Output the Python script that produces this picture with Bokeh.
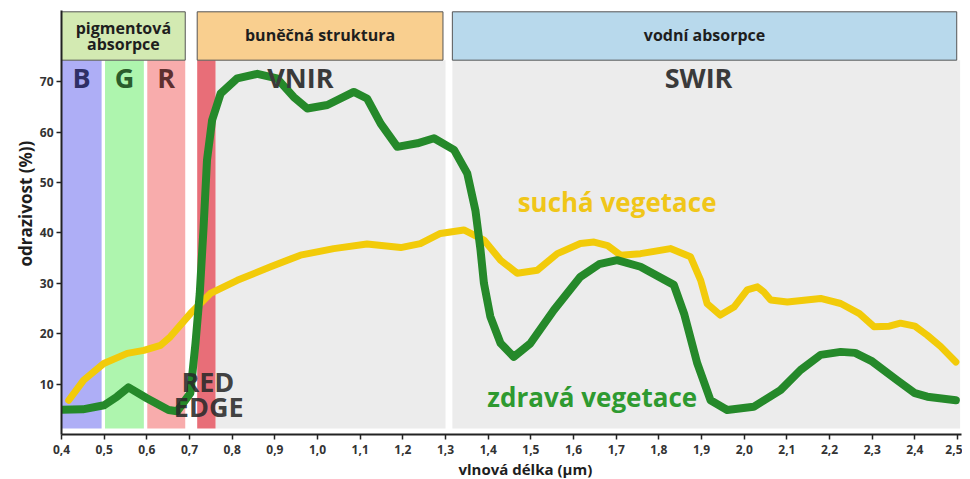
from bokeh.plotting import figure
from bokeh.models import CustomJSTickFormatter, FixedTicker, Title
from bokeh.core.properties import value
from bokeh.embed import file_html
from bokeh.resources import INLINE

# ---- data ----
healthy_x = [0.40, 0.45, 0.50, 0.53, 0.557, 0.60, 0.651, 0.671, 0.702, 0.714, 0.724, 0.733, 0.741,
             0.753, 0.773, 0.812, 0.859, 0.905, 0.944, 0.976, 1.023, 1.085, 1.116, 1.148, 1.187,
             1.234, 1.273, 1.32, 1.351, 1.37, 1.382, 1.39, 1.405, 1.429, 1.46, 1.499, 1.554,
             1.616, 1.66, 1.702, 1.757, 1.835, 1.859, 1.89, 1.921, 1.96, 2.022, 2.085, 2.132,
             2.179, 2.226, 2.26, 2.30, 2.358, 2.40, 2.429, 2.496]
healthy_y = [4.9, 5.0, 5.8, 7.5, 9.35, 7.2, 4.85, 4.6, 8.2, 18.1, 28.0, 41.2, 54.5,
             62.4, 67.7, 70.7, 71.6, 70.7, 67.0, 64.7, 65.4, 68.0, 66.7, 61.7, 57.1,
             57.8, 58.8, 56.5, 51.8, 44.5, 36.6, 30.0, 23.4, 18.1, 15.4, 18.1, 24.7,
             31.3, 33.8, 34.6, 33.3, 29.7, 24.0, 14.1, 6.8, 4.85, 5.5, 8.8, 12.8,
             15.8, 16.4, 16.2, 14.5, 10.8, 8.2, 7.5, 6.8]

dry_x = [0.417, 0.452, 0.499, 0.554, 0.593, 0.632, 0.655, 0.702, 0.749, 0.812, 0.89, 0.96,
         1.038, 1.116, 1.195, 1.241, 1.288, 1.343, 1.39, 1.429, 1.468, 1.515, 1.562, 1.616,
         1.648, 1.68, 1.71, 1.757, 1.827, 1.874, 1.898, 1.913, 1.944, 1.976, 2.007, 2.031,
         2.046, 2.062, 2.101, 2.179, 2.226, 2.27, 2.304, 2.34, 2.366, 2.40, 2.429, 2.46, 2.496]
dry_y = [6.8, 10.8, 14.1, 16.1, 16.7, 17.7, 19.4, 24.0, 28.0, 30.6, 33.3, 35.6,
         36.9, 37.8, 37.1, 37.9, 39.9, 40.6, 38.6, 34.6, 32.0, 32.6, 35.9, 37.9,
         38.2, 37.5, 35.6, 35.9, 36.9, 35.3, 30.6, 26.0, 23.7, 25.3, 28.7, 29.3,
         28.3, 26.7, 26.3, 27.0, 26.0, 24.0, 21.4, 21.5, 22.1, 21.5, 19.7, 17.5, 14.4]

band_left = [0.400, 0.502, 0.601, 0.718]
band_right = [0.494, 0.593, 0.690, 0.761]
band_names = ["B", "G", "R"]

gray_left = [0.761, 1.316]
gray_right = [1.300, 2.506]

header_left = [0.400, 0.718, 1.316]
header_right = [0.690, 1.294, 2.498]
header_labels = [["pigmentová", "absorpce"], ["buněčná struktura"], ["vodní absorpce"]]

x_ticks = [0.4, 0.5, 0.6, 0.7, 0.8, 0.9, 1.0, 1.1, 1.2, 1.3, 1.4, 1.5, 1.6, 1.7, 1.8, 1.9,
           2.0, 2.1, 2.2, 2.3, 2.4, 2.5]
y_ticks = [10, 20, 30, 40, 50, 60, 70]

# ---- styles ----
FONT = "Open Sans"
band_colors = ["#aeaef6", "#aef5ae", "#f8acac", "#e86e78"]
letter_colors = ["#2f2f66", "#2b5c2b", "#5e2f2f"]
header_colors = ["#d3eab2", "#f9cf8f", "#b8d9ec"]
GREEN = "#25892a"
YELLOW = "#f2cb0a"

p = figure(frame_width=900, frame_height=424, x_range=(0.4, 2.5092), y_range=(0, 84.16),
           output_backend="svg", toolbar_location=None,
           min_border_left=61, min_border_right=1, min_border_top=10, min_border_bottom=40)
p.outline_line_color = None
p.grid.visible = False
p.background_fill_color = "white"

band_bottom = 1.2
band_top = 74.3
p.quad(left=gray_left, right=gray_right, bottom=band_bottom, top=band_top,
       fill_color="#ececec", line_color=None)
p.quad(left=band_left, right=band_right, bottom=band_bottom, top=band_top,
       fill_color=band_colors, line_color=None)

p.quad(left=header_left, right=header_right, bottom=band_top, top=83.9,
       fill_color=header_colors, line_color="#555555", line_width=1)

for i, lines in enumerate(header_labels):
    cx = (header_left[i] + header_right[i]) / 2
    ys = [80.7, 77.5] if len(lines) == 2 else [79.2]
    p.text(x=[cx] * len(lines), y=ys, text=lines, text_font=value(FONT), text_font_style="bold",
           text_font_size="16px", text_align="center", text_baseline="middle", text_color="#1e1e1e")

# curves
p.line(dry_x, dry_y, line_color=YELLOW, line_width=7, line_join="round", line_cap="round")
p.line(healthy_x, healthy_y, line_color=GREEN, line_width=8, line_join="round", line_cap="round")

letter_x = [(band_left[i] + band_right[i]) / 2 for i in range(3)]
p.text(x=letter_x, y=[70.9] * 3, text=band_names, text_font=value(FONT), text_font_style="bold",
       text_font_size="27px", text_align="center", text_baseline="middle", text_color=letter_colors)

p.text(x=[0.96, 1.893], y=[70.9, 70.9], text=["VNIR", "SWIR"], text_font=value(FONT),
       text_font_style="bold", text_font_size="27px", text_align="center", text_baseline="middle",
       text_color="#3a3a3a")

p.text(x=[0.743, 0.745], y=[10.5, 5.5], text=["RED", "EDGE"], text_font=value(FONT),
       text_font_style="bold", text_font_size="27px", text_align="center", text_baseline="middle",
       text_color="#2a2a2a", text_alpha=0.9)

p.text(x=[1.469], y=[46.2], text=["suchá vegetace"], text_font=value(FONT), text_font_style="bold",
       text_font_size="26px", text_align="left", text_baseline="middle", text_color="#f0c619")
p.text(x=[1.398], y=[7.5], text=["zdravá vegetace"], text_font=value(FONT), text_font_style="bold",
       text_font_size="26px", text_align="left", text_baseline="middle", text_color="#2e9a30")

for ax in (p.xaxis[0], p.yaxis[0]):
    ax.axis_line_color = "#222222"
    ax.axis_line_width = 2
    ax.major_tick_line_color = "#222222"
    ax.major_tick_line_width = 1.5
    ax.major_tick_in = 0
    ax.major_tick_out = 5
    ax.minor_tick_line_color = None
    ax.major_label_text_font = FONT
    ax.major_label_text_font_style = "bold"
    ax.major_label_text_font_size = "12px"
    ax.major_label_text_color = "#333333"

p.xaxis.ticker = FixedTicker(ticks=x_ticks)
p.xaxis.formatter = CustomJSTickFormatter(code="return tick.toFixed(1).replace('.', ',');")
p.xaxis.major_label_standoff = 5
p.yaxis.ticker = FixedTicker(ticks=y_ticks)
p.yaxis.formatter = CustomJSTickFormatter(code="return tick.toFixed(0);")
p.yaxis.major_label_standoff = 3

p.add_layout(Title(text="vlnová délka (µm)", align="left", offset=397, text_font=FONT,
                   text_font_style="bold", text_font_size="15px", text_color="#1e1e1e",
                   standoff=0), "below")
p.add_layout(Title(text="odrazivost (%))", align="left", offset=168, text_font=FONT,
                   text_font_style="bold", text_font_size="17px", text_color="#1e1e1e",
                   standoff=0), "left")

open("out.html", "w").write(file_html(p, INLINE))
